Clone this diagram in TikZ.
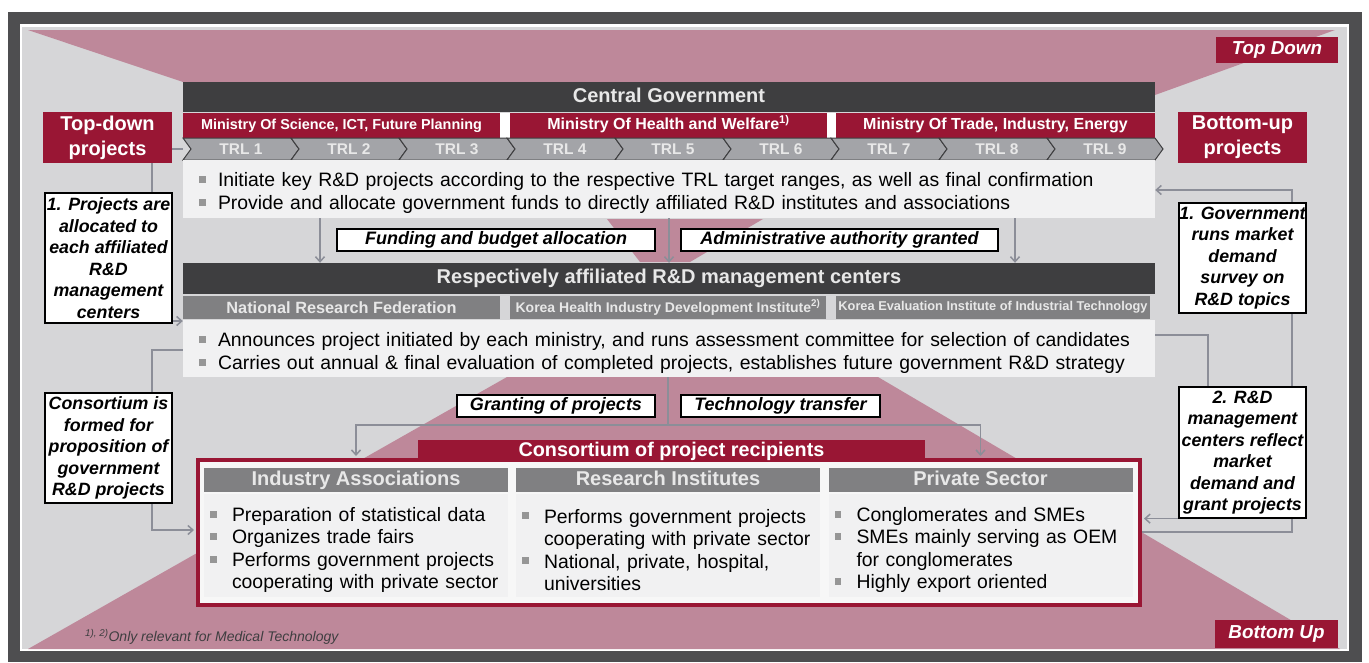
\documentclass[tikz,border=0pt]{standalone}
\usepackage{fontspec}
\setmainfont{Liberation Sans}
\usetikzlibrary{positioning,arrows.meta,calc}

\definecolor{framegrey}{RGB}{78,78,80}
\definecolor{backgrey}{RGB}{214,214,216}
\definecolor{pinkshade}{RGB}{190,136,154}
\definecolor{darkred}{RGB}{153,22,52}
\definecolor{darkhead}{RGB}{62,62,64}
\definecolor{midgrey}{RGB}{128,128,130}
\definecolor{trlgrey}{RGB}{163,164,168}
\definecolor{paleback}{RGB}{241,241,242}
\definecolor{linegrey}{RGB}{140,142,152}
\definecolor{bulgrey}{RGB}{150,150,150}
\definecolor{softtext}{RGB}{232,232,232}

\pgfdeclarelayer{back}
\pgfdeclarelayer{wires}
\pgfsetlayers{back,wires,main}

\newcommand{\fs}[2]{\fontsize{#1pt}{#2pt}\selectfont}
\newcommand{\sqmark}{\textcolor{bulgrey}{\rule[0.2em]{0.36em}{0.36em}}}
\newcommand{\bitem}[2][19pt]{\par\hangindent=#1\hangafter=1\noindent\makebox[#1][l]{\sqmark}#2\par}
\newcommand{\nl}{\hfil\break}

\tikzset{
    >={Straight Barb[length=5pt,width=9pt]},
    headbar/.style = {fill=darkhead, text=softtext, minimum width=972pt, inner sep=0pt, text height=14.5pt, text depth=4pt, font=\bfseries\fs{20}{23}},
    ministry/.style = {fill=darkred, text=white, inner sep=0pt, minimum height=25pt, text height=11.5pt, text depth=3.3pt, font=\bfseries\fs{16}{18}},
    instbar/.style = {fill=midgrey, text=softtext, inner sep=0pt, minimum height=23pt, font=\bfseries\fs{16.3}{18}},
    trlarrow/.style = {fill=trlgrey, draw=darkhead, line width=1pt},
    trllabel/.style = {text=softtext, inner sep=0pt, font=\bfseries\fs{15.5}{17}},
    bulletbox/.style = {fill=paleback, inner xsep=16pt, inner ysep=0pt, text width=940pt, align=left, font=\fs{19.4}{23}},
    colhead/.style = {fill=midgrey, text=softtext, inner sep=0pt, minimum width=304pt, minimum height=24pt, text height=14.5pt, text depth=4pt, font=\bfseries\fs{20}{23}},
    colbody/.style = {fill=paleback, inner xsep=6pt, inner ysep=0pt, text width=292pt, minimum height=103pt, align=left, font=\fs{19.4}{22.5}},
    tagbox/.style = {draw=black, line width=1.2pt, fill=white, inner sep=0pt, minimum height=22pt, text height=13pt, text depth=3.8pt, font=\bfseries\itshape\fs{18}{20}},
    sidenote/.style = {draw=black, line width=1.2pt, fill=white, inner sep=0pt, minimum width=127pt, align=center, font=\bfseries\itshape\fs{17.8}{21.5}},
    redtag/.style = {fill=darkred, text=white, inner sep=0pt, align=center},
    wire/.style = {draw=linegrey, line width=1.5pt},
}

\begin{document}
\begin{tikzpicture}[x=1pt,y=-1pt]
\useasboundingbox (0,0) rectangle (1369,662);

% frame and shaded bands
\begin{pgfonlayer}{back}
\fill[framegrey] (8,12) rectangle (1362,662);
\fill[white] (20,24) rectangle (1349,651);
\fill[backgrey] (22,27) rectangle (1347,649);
\fill[pinkshade] (28,30) -- (1335,30) -- (1155,95) -- (183,82) -- cycle;
\fill[pinkshade] (607,219) -- (763,219) -- (690,262) -- (640,262) -- cycle;
\fill[pinkshade] (507,377) -- (878,377) -- (1340,649) -- (28,649) -- cycle;
\fill[white] (183,113) rectangle (1155,138);
\end{pgfonlayer}

% central government
\node[headbar, minimum height=30pt] (cg) at (669,97) {Central Government};
\node[ministry, minimum width=317pt, font=\bfseries\fs{14.4}{16}] (msci) at (341.5,125.5) {Ministry Of Science, ICT, Future Planning};
\node[ministry, minimum width=317pt] (mhw) at (668.5,125.5) {Ministry Of Health and Welfare\textsuperscript{1)}};
\node[ministry, minimum width=319pt] (mtie) at (995.5,125.5) {Ministry Of Trade, Industry, Energy};

\foreach \i in {1,...,9} {
    \pgfmathsetmacro{\xo}{183+(\i-1)*108}
    \draw[trlarrow] (\xo,138) -- ++(108,0) -- ++(8,11) -- ++(-8,11) -- ++(-108,0) -- ++(8,-11) -- cycle;
    \node[trllabel] (trl\i) at (\xo+58,149) {TRL \i};
}
\coordinate (trlrow) at (183,149);

\node[bulletbox, minimum height=58pt] (gb) at (669,189) {%
    \bitem{Initiate key R\&D projects according to the respective TRL target ranges, as well as final confirmation}
    \bitem{Provide and allocate government funds to directly affiliated R\&D institutes and associations}};

\node[tagbox, minimum width=318pt] (fund) at (496,240) {Funding and budget allocation};
\node[tagbox, minimum width=317pt] (admin) at (839.5,240) {Administrative authority granted};

% management centers
\node[headbar, minimum height=31pt] (rc) at (669,278.5) {Respectively affiliated R\&D management centers};
\node[instbar, minimum width=317pt] (nrf) at (341.5,307.5) {National Research Federation};
\node[instbar, minimum width=316pt, font=\bfseries\fs{14}{16}] (khidi) at (668,307.5) {Korea Health Industry Development Institute\textsuperscript{2)}};
\node[instbar, minimum width=314pt, font=\bfseries\fs{12.8}{14}] (keit) at (993,307.5) {Korea Evaluation Institute of Industrial Technology};

\node[bulletbox, minimum height=57pt] (rb) at (669,348.5) {%
    \bitem{Announces project initiated by each ministry, and runs assessment committee for selection of candidates}
    \bitem{Carries out annual \& final evaluation of completed projects, establishes future government R\&D strategy}};

\node[tagbox, minimum width=198pt] (grant) at (556,406) {Granting of projects};
\node[tagbox, minimum width=199pt] (tech) at (780.5,406) {Technology transfer};

% consortium
\node[draw=darkred, line width=4pt, fill=paleback!60!white, minimum width=942pt, minimum height=145pt, inner sep=0pt] (cons) at (669,532.5) {};
\node[redtag, minimum width=507pt, minimum height=22pt, text height=14.5pt, text depth=4pt, font=\bfseries\fs{19.8}{22}] (cbar) at (671.5,451) {Consortium of project recipients};

\node[colhead] (ia) at (356,480) {Industry Associations};
\node[colhead] (ri) at (668,480) {Research Institutes};
\node[colhead] (ps) at (980.5,480) {Private Sector};

\node[colbody, below=2pt of ia] (iab) {%
    \bitem[22pt]{Preparation of statistical data}
    \bitem[22pt]{Organizes trade fairs}
    \bitem[22pt]{Performs government projects\nl cooperating with private sector}};
\node[colbody, below=2pt of ri] (rib) {%
    \bitem[22pt]{Performs government projects\nl cooperating with private sector}
    \bitem[22pt]{National, private, hospital,\nl universities}};
\node[colbody, below=2pt of ps] (psb) {%
    \bitem[22pt]{Conglomerates and SMEs}
    \bitem[22pt]{SMEs mainly serving as OEM\nl for conglomerates}
    \bitem[22pt]{Highly export oriented}};

% side notes
\node[redtag, minimum width=129pt, minimum height=51pt, font=\bfseries\fs{20}{25}] (td) at (107.5,137.5) {Top-down\\projects};
\node[sidenote, minimum height=130pt] (lp) at (108.5,258) {1. Projects are\\allocated to\\each affiliated\\R\&D\\management\\centers};
\node[sidenote, minimum height=110pt] (lc) at (108.5,448) {Consortium is\\formed for\\proposition of\\government\\R\&D projects};

\node[redtag, minimum width=129pt, minimum height=51pt, font=\bfseries\fs{20}{25}] (bu) at (1242.5,137.5) {Bottom-up\\projects};
\node[sidenote, minimum height=110pt] (rg) at (1242.5,258) {1. Government\\runs market\\demand\\survey on\\R\&D topics};
\node[sidenote, minimum height=131pt] (rr) at (1242.5,452.5) {2. R\&D\\management\\centers reflect\\market\\demand and\\grant projects};

\node[redtag, minimum width=122pt, minimum height=26pt, font=\bfseries\itshape\fs{18.8}{20}] (topdown) at (1277,50) {Top Down};
\node[redtag, minimum width=123pt, minimum height=28pt, font=\bfseries\itshape\fs{18.8}{20}] (bottomup) at (1276.5,634) {Bottom Up};

\node[anchor=west, inner sep=0pt, text=darkhead, font=\itshape\fs{14}{16}] (fn) at (85,637) {\textsuperscript{1), 2)}Only relevant for Medical Technology};

% connectors
\coordinate (lx) at (320,0);
\coordinate (rx) at (1015,0);
\coordinate (lrail) at (152,350);
\coordinate (ldrop) at (152,530);
\coordinate (ltop) at (0,321);
\coordinate (rrail) at (1292,190);
\coordinate (rfoot) at (1292,532);
\coordinate (mrail) at (1208,335);
\coordinate (hub) at (668,425);

\begin{pgfonlayer}{wires}
\draw[wire,->] (gb.south -| lx) -- (rc.north -| lx);
\draw[wire,->] (gb.south) -- (rc.north);
\draw[wire,->] (gb.south -| rx) -- (rc.north -| rx);

\draw[wire] (td.east |- trlrow) -- (trlrow);
\draw[wire] (td.south -| lrail) -- (lp.north -| lrail);
\draw[wire,->] (lp.east |- ltop) -- (rb.west |- ltop);
\draw[wire,->,shorten >=2pt] (rb.west |- lrail) -- (lrail) -- (ldrop) -- (cons.west |- ldrop);

\draw[wire,->] (cons.east |- rfoot) -- (rfoot) -- (rrail) -- (gb.east |- rrail);
\draw[wire] (rb.east |- mrail) -- (mrail) -- (rr.north -| mrail);
\draw[wire,->,shorten >=2pt] (rr.south west) -- (cons.east |- rr.south west);

\draw[wire] (rb.south -| hub) -- (hub);
\draw[wire,->,shorten >=2pt] (hub) -| (ia.north |- cons.north);
\draw[wire,->,shorten >=2pt] (hub) -| (ps.north |- cons.north);
\end{pgfonlayer}
\end{tikzpicture}
\end{document}
